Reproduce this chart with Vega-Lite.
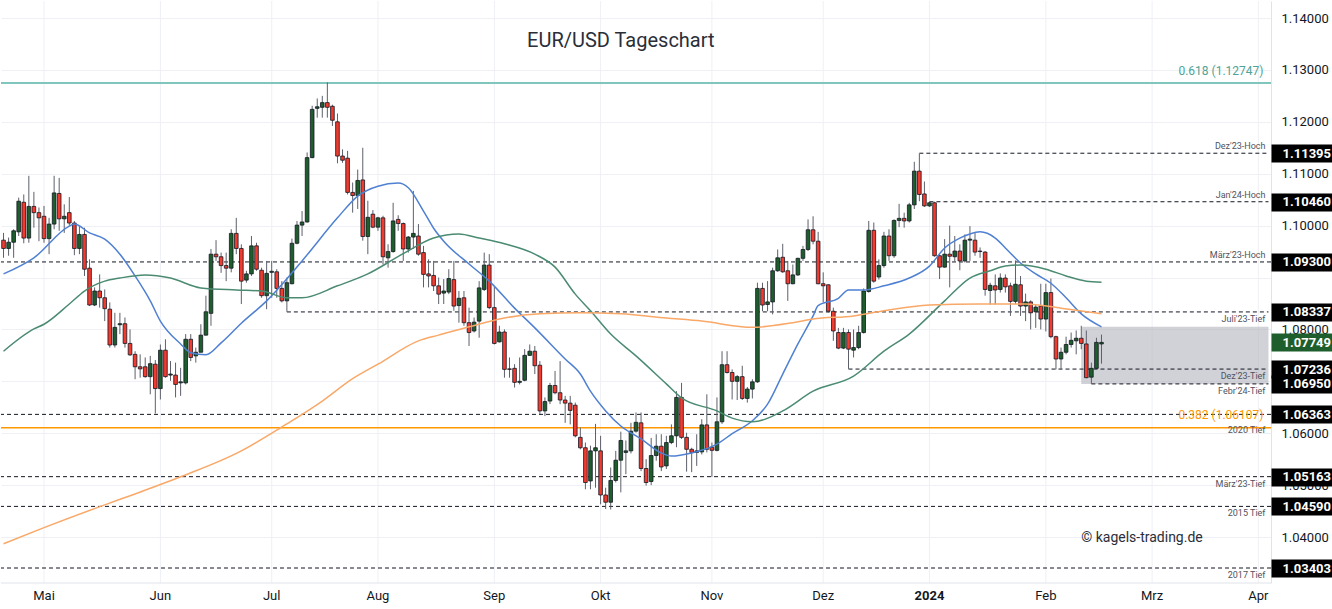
{
"$schema": "https://vega.github.io/schema/vega-lite/v6.json",
"usermeta": {"embedOptions": {"actions": false}},
"width": 1270,
"height": 582,
"autosize": {"type": "pad"},
"padding": 0,
"background": "#ffffff",
"config": {"font": "Roboto", "view": {"stroke": null}},
"datasets": {
"one": [{}],
"months": [
{"date":"2023-05-01","label":"Mai"},
{"date":"2023-06-01","label":"Jun"},
{"date":"2023-07-03","label":"Jul"},
{"date":"2023-08-01","label":"Aug"},
{"date":"2023-09-01","label":"Sep"},
{"date":"2023-10-02","label":"Okt"},
{"date":"2023-11-01","label":"Nov"},
{"date":"2023-12-01","label":"Dez"},
{"date":"2024-01-01","label":"2024"},
{"date":"2024-02-01","label":"Feb"},
{"date":"2024-03-01","label":"Mrz"},
{"date":"2024-04-01","label":"Apr"}
],
"candles": [
{"date":"2023-04-19","open":1.0972,"high":1.0986,"low":1.0938,"close":1.0956},
{"date":"2023-04-20","open":1.0956,"high":1.0977,"low":1.0942,"close":1.0968},
{"date":"2023-04-21","open":1.0968,"high":1.0993,"low":1.0938,"close":1.0990},
{"date":"2023-04-24","open":1.0988,"high":1.1054,"low":1.0980,"close":1.1047},
{"date":"2023-04-25","open":1.1045,"high":1.1060,"low":1.0966,"close":1.0976},
{"date":"2023-04-26","open":1.0976,"high":1.1096,"low":1.0967,"close":1.1037},
{"date":"2023-04-27","open":1.1037,"high":1.1065,"low":1.0996,"close":1.1025},
{"date":"2023-04-28","open":1.1025,"high":1.1035,"low":1.0970,"close":1.1015},
{"date":"2023-05-01","open":1.1018,"high":1.1038,"low":1.0967,"close":1.0975},
{"date":"2023-05-02","open":1.0975,"high":1.1015,"low":1.0945,"close":1.1003},
{"date":"2023-05-03","open":1.1003,"high":1.1096,"low":1.0993,"close":1.1063},
{"date":"2023-05-04","open":1.1062,"high":1.1092,"low":1.0990,"close":1.1013},
{"date":"2023-05-05","open":1.1013,"high":1.1041,"low":1.0986,"close":1.1018},
{"date":"2023-05-08","open":1.1025,"high":1.1055,"low":1.1000,"close":1.1005},
{"date":"2023-05-09","open":1.1005,"high":1.1009,"low":1.0943,"close":1.0956},
{"date":"2023-05-10","open":1.0956,"high":1.0999,"low":1.0945,"close":1.0983},
{"date":"2023-05-11","open":1.0983,"high":1.0996,"low":1.0903,"close":1.0916},
{"date":"2023-05-12","open":1.0918,"high":1.0935,"low":1.0845,"close":1.0847},
{"date":"2023-05-15","open":1.0847,"high":1.0881,"low":1.0845,"close":1.0874},
{"date":"2023-05-16","open":1.0874,"high":1.0906,"low":1.0842,"close":1.0861},
{"date":"2023-05-17","open":1.0861,"high":1.0877,"low":1.0816,"close":1.0840},
{"date":"2023-05-18","open":1.0839,"high":1.0852,"low":1.0765,"close":1.0770},
{"date":"2023-05-19","open":1.0770,"high":1.0832,"low":1.0765,"close":1.0804},
{"date":"2023-05-22","open":1.0809,"high":1.0832,"low":1.0791,"close":1.0811},
{"date":"2023-05-23","open":1.0811,"high":1.0823,"low":1.0765,"close":1.0773},
{"date":"2023-05-24","open":1.0773,"high":1.0800,"low":1.0749,"close":1.0751},
{"date":"2023-05-25","open":1.0752,"high":1.0758,"low":1.0704,"close":1.0728},
{"date":"2023-05-26","open":1.0728,"high":1.0752,"low":1.0707,"close":1.0724},
{"date":"2023-05-29","open":1.0728,"high":1.0746,"low":1.0707,"close":1.0709},
{"date":"2023-05-30","open":1.0709,"high":1.0749,"low":1.0675,"close":1.0734},
{"date":"2023-05-31","open":1.0733,"high":1.0741,"low":1.0638,"close":1.0686},
{"date":"2023-06-01","open":1.0686,"high":1.0771,"low":1.0665,"close":1.0760},
{"date":"2023-06-02","open":1.0760,"high":1.0781,"low":1.0707,"close":1.0709},
{"date":"2023-06-05","open":1.0712,"high":1.0739,"low":1.0701,"close":1.0714},
{"date":"2023-06-06","open":1.0712,"high":1.0736,"low":1.0669,"close":1.0694},
{"date":"2023-06-07","open":1.0697,"high":1.0726,"low":1.0672,"close":1.0699},
{"date":"2023-06-08","open":1.0697,"high":1.0791,"low":1.0694,"close":1.0781},
{"date":"2023-06-09","open":1.0781,"high":1.0791,"low":1.0739,"close":1.0746},
{"date":"2023-06-12","open":1.0749,"high":1.0765,"low":1.0736,"close":1.0756},
{"date":"2023-06-13","open":1.0756,"high":1.0810,"low":1.0756,"close":1.0789},
{"date":"2023-06-14","open":1.0789,"high":1.0865,"low":1.0788,"close":1.0834},
{"date":"2023-06-15","open":1.0831,"high":1.0955,"low":1.0807,"close":1.0945},
{"date":"2023-06-16","open":1.0945,"high":1.0972,"low":1.0932,"close":1.0940},
{"date":"2023-06-19","open":1.0940,"high":1.0948,"low":1.0909,"close":1.0923},
{"date":"2023-06-20","open":1.0923,"high":1.0948,"low":1.0893,"close":1.0918},
{"date":"2023-06-21","open":1.0918,"high":1.0993,"low":1.0910,"close":1.0985},
{"date":"2023-06-22","open":1.0985,"high":1.1015,"low":1.0945,"close":1.0956},
{"date":"2023-06-23","open":1.0956,"high":1.0964,"low":1.0849,"close":1.0893},
{"date":"2023-06-26","open":1.0895,"high":1.0913,"low":1.0890,"close":1.0907},
{"date":"2023-06-27","open":1.0907,"high":1.0980,"low":1.0903,"close":1.0961},
{"date":"2023-06-28","open":1.0961,"high":1.0967,"low":1.0913,"close":1.0916},
{"date":"2023-06-29","open":1.0914,"high":1.0919,"low":1.0861,"close":1.0865},
{"date":"2023-06-30","open":1.0865,"high":1.0932,"low":1.0839,"close":1.0908},
{"date":"2023-07-03","open":1.0910,"high":1.0932,"low":1.0861,"close":1.0912},
{"date":"2023-07-04","open":1.0911,"high":1.0916,"low":1.0861,"close":1.0879},
{"date":"2023-07-05","open":1.0879,"high":1.0893,"low":1.0852,"close":1.0855},
{"date":"2023-07-06","open":1.0855,"high":1.0900,"low":1.0834,"close":1.0890},
{"date":"2023-07-07","open":1.0888,"high":1.0975,"low":1.0887,"close":1.0966},
{"date":"2023-07-10","open":1.0966,"high":1.1009,"low":1.0964,"close":1.1001},
{"date":"2023-07-11","open":1.1001,"high":1.1028,"low":1.0980,"close":1.1007},
{"date":"2023-07-12","open":1.1007,"high":1.1141,"low":1.1006,"close":1.1131},
{"date":"2023-07-13","open":1.1131,"high":1.1231,"low":1.1130,"close":1.1224},
{"date":"2023-07-14","open":1.1226,"high":1.1245,"low":1.1208,"close":1.1229},
{"date":"2023-07-17","open":1.1228,"high":1.1250,"low":1.1208,"close":1.1237},
{"date":"2023-07-18","open":1.1237,"high":1.1276,"low":1.1208,"close":1.1228},
{"date":"2023-07-19","open":1.1230,"high":1.1233,"low":1.1192,"close":1.1203},
{"date":"2023-07-20","open":1.1200,"high":1.1216,"low":1.1120,"close":1.1134},
{"date":"2023-07-21","open":1.1134,"high":1.1147,"low":1.1121,"close":1.1126},
{"date":"2023-07-24","open":1.1130,"high":1.1144,"low":1.1060,"close":1.1064},
{"date":"2023-07-25","open":1.1064,"high":1.1083,"low":1.1025,"close":1.1058},
{"date":"2023-07-26","open":1.1058,"high":1.1108,"low":1.1032,"close":1.1087},
{"date":"2023-07-27","open":1.1088,"high":1.1150,"low":1.0971,"close":1.0979},
{"date":"2023-07-28","open":1.0979,"high":1.1048,"low":1.0945,"close":1.1016},
{"date":"2023-07-31","open":1.1022,"high":1.1030,"low":1.0995,"close":1.0997},
{"date":"2023-08-01","open":1.0997,"high":1.1017,"low":1.0990,"close":1.1015},
{"date":"2023-08-02","open":1.1015,"high":1.1019,"low":1.0925,"close":1.0940},
{"date":"2023-08-03","open":1.0938,"high":1.0964,"low":1.0919,"close":1.0950},
{"date":"2023-08-04","open":1.0950,"high":1.1044,"low":1.0948,"close":1.1009},
{"date":"2023-08-07","open":1.1012,"high":1.1020,"low":1.0990,"close":1.1004},
{"date":"2023-08-08","open":1.1004,"high":1.1006,"low":1.0932,"close":1.0955},
{"date":"2023-08-09","open":1.0955,"high":1.0980,"low":1.0948,"close":1.0978},
{"date":"2023-08-10","open":1.0978,"high":1.1067,"low":1.0955,"close":1.0985},
{"date":"2023-08-11","open":1.0980,"high":1.1003,"low":1.0942,"close":1.0945},
{"date":"2023-08-14","open":1.0948,"high":1.0961,"low":1.0881,"close":1.0906},
{"date":"2023-08-15","open":1.0907,"high":1.0935,"low":1.0881,"close":1.0903},
{"date":"2023-08-16","open":1.0904,"high":1.0932,"low":1.0874,"close":1.0884},
{"date":"2023-08-17","open":1.0884,"high":1.0900,"low":1.0849,"close":1.0868},
{"date":"2023-08-18","open":1.0870,"high":1.0897,"low":1.0849,"close":1.0874},
{"date":"2023-08-21","open":1.0872,"high":1.0916,"low":1.0868,"close":1.0898},
{"date":"2023-08-22","open":1.0896,"high":1.0932,"low":1.0836,"close":1.0845},
{"date":"2023-08-23","open":1.0846,"high":1.0874,"low":1.0813,"close":1.0860},
{"date":"2023-08-24","open":1.0861,"high":1.0874,"low":1.0807,"close":1.0813},
{"date":"2023-08-25","open":1.0813,"high":1.0842,"low":1.0768,"close":1.0794},
{"date":"2023-08-28","open":1.0797,"high":1.0823,"low":1.0794,"close":1.0814},
{"date":"2023-08-29","open":1.0816,"high":1.0893,"low":1.0784,"close":1.0880},
{"date":"2023-08-30","open":1.0877,"high":1.0948,"low":1.0874,"close":1.0924},
{"date":"2023-08-31","open":1.0924,"high":1.0945,"low":1.0839,"close":1.0842},
{"date":"2023-09-01","open":1.0842,"high":1.0882,"low":1.0771,"close":1.0773},
{"date":"2023-09-04","open":1.0776,"high":1.0807,"low":1.0775,"close":1.0795},
{"date":"2023-09-05","open":1.0795,"high":1.0800,"low":1.0707,"close":1.0723},
{"date":"2023-09-06","open":1.0724,"high":1.0746,"low":1.0707,"close":1.0723},
{"date":"2023-09-07","open":1.0725,"high":1.0733,"low":1.0688,"close":1.0698},
{"date":"2023-09-08","open":1.0698,"high":1.0746,"low":1.0694,"close":1.0700},
{"date":"2023-09-11","open":1.0702,"high":1.0762,"low":1.0700,"close":1.0750},
{"date":"2023-09-12","open":1.0750,"high":1.0771,"low":1.0749,"close":1.0758},
{"date":"2023-09-13","open":1.0758,"high":1.0768,"low":1.0714,"close":1.0730},
{"date":"2023-09-14","open":1.0731,"high":1.0739,"low":1.0637,"close":1.0643},
{"date":"2023-09-15","open":1.0643,"high":1.0669,"low":1.0633,"close":1.0661},
{"date":"2023-09-18","open":1.0662,"high":1.0697,"low":1.0656,"close":1.0692},
{"date":"2023-09-19","open":1.0692,"high":1.0720,"low":1.0675,"close":1.0678},
{"date":"2023-09-20","open":1.0678,"high":1.0739,"low":1.0656,"close":1.0664},
{"date":"2023-09-21","open":1.0664,"high":1.0672,"low":1.0620,"close":1.0658},
{"date":"2023-09-22","open":1.0658,"high":1.0672,"low":1.0617,"close":1.0644},
{"date":"2023-09-25","open":1.0654,"high":1.0659,"low":1.0592,"close":1.0595},
{"date":"2023-09-26","open":1.0592,"high":1.0611,"low":1.0569,"close":1.0572},
{"date":"2023-09-27","open":1.0572,"high":1.0582,"low":1.0492,"close":1.0505},
{"date":"2023-09-28","open":1.0508,"high":1.0576,"low":1.0492,"close":1.0566},
{"date":"2023-09-29","open":1.0566,"high":1.0618,"low":1.0495,"close":1.0572},
{"date":"2023-10-02","open":1.0566,"high":1.0595,"low":1.0463,"close":1.0481},
{"date":"2023-10-03","open":1.0481,"high":1.0495,"low":1.0454,"close":1.0467},
{"date":"2023-10-04","open":1.0467,"high":1.0534,"low":1.0453,"close":1.0509},
{"date":"2023-10-05","open":1.0509,"high":1.0566,"low":1.0505,"close":1.0548},
{"date":"2023-10-06","open":1.0548,"high":1.0603,"low":1.0486,"close":1.0586},
{"date":"2023-10-09","open":1.0563,"high":1.0586,"low":1.0521,"close":1.0566},
{"date":"2023-10-10","open":1.0566,"high":1.0620,"low":1.0561,"close":1.0604},
{"date":"2023-10-11","open":1.0604,"high":1.0640,"low":1.0601,"close":1.0621},
{"date":"2023-10-12","open":1.0620,"high":1.0640,"low":1.0527,"close":1.0532},
{"date":"2023-10-13","open":1.0532,"high":1.0550,"low":1.0499,"close":1.0505},
{"date":"2023-10-16","open":1.0507,"high":1.0591,"low":1.0500,"close":1.0557},
{"date":"2023-10-17","open":1.0557,"high":1.0598,"low":1.0547,"close":1.0575},
{"date":"2023-10-18","open":1.0575,"high":1.0598,"low":1.0527,"close":1.0535},
{"date":"2023-10-19","open":1.0537,"high":1.0595,"low":1.0531,"close":1.0582},
{"date":"2023-10-20","open":1.0582,"high":1.0617,"low":1.0579,"close":1.0595},
{"date":"2023-10-23","open":1.0595,"high":1.0681,"low":1.0573,"close":1.0669},
{"date":"2023-10-24","open":1.0669,"high":1.0697,"low":1.0589,"close":1.0592},
{"date":"2023-10-25","open":1.0592,"high":1.0601,"low":1.0526,"close":1.0569},
{"date":"2023-10-26","open":1.0569,"high":1.0572,"low":1.0525,"close":1.0563},
{"date":"2023-10-27","open":1.0563,"high":1.0598,"low":1.0537,"close":1.0566},
{"date":"2023-10-30","open":1.0564,"high":1.0627,"low":1.0559,"close":1.0616},
{"date":"2023-10-31","open":1.0616,"high":1.0675,"low":1.0563,"close":1.0569},
{"date":"2023-11-01","open":1.0573,"high":1.0582,"low":1.0516,"close":1.0567},
{"date":"2023-11-02","open":1.0567,"high":1.0669,"low":1.0565,"close":1.0622},
{"date":"2023-11-03","open":1.0622,"high":1.0758,"low":1.0618,"close":1.0732},
{"date":"2023-11-06","open":1.0732,"high":1.0758,"low":1.0715,"close":1.0717},
{"date":"2023-11-07","open":1.0717,"high":1.0723,"low":1.0665,"close":1.0700},
{"date":"2023-11-08","open":1.0700,"high":1.0712,"low":1.0664,"close":1.0709},
{"date":"2023-11-09","open":1.0709,"high":1.0730,"low":1.0664,"close":1.0667},
{"date":"2023-11-10","open":1.0667,"high":1.0689,"low":1.0659,"close":1.0685},
{"date":"2023-11-13","open":1.0685,"high":1.0704,"low":1.0667,"close":1.0699},
{"date":"2023-11-14","open":1.0699,"high":1.0890,"low":1.0697,"close":1.0879},
{"date":"2023-11-15","open":1.0879,"high":1.0890,"low":1.0835,"close":1.0847},
{"date":"2023-11-16","open":1.0848,"high":1.0893,"low":1.0835,"close":1.0853},
{"date":"2023-11-17","open":1.0853,"high":1.0919,"low":1.0829,"close":1.0913},
{"date":"2023-11-20","open":1.0913,"high":1.0954,"low":1.0911,"close":1.0938},
{"date":"2023-11-21","open":1.0939,"high":1.0965,"low":1.0909,"close":1.0911},
{"date":"2023-11-22","open":1.0913,"high":1.0932,"low":1.0855,"close":1.0888},
{"date":"2023-11-23","open":1.0888,"high":1.0925,"low":1.0887,"close":1.0905},
{"date":"2023-11-24","open":1.0905,"high":1.0938,"low":1.0903,"close":1.0937},
{"date":"2023-11-27","open":1.0937,"high":1.0961,"low":1.0932,"close":1.0954},
{"date":"2023-11-28","open":1.0954,"high":1.1012,"low":1.0951,"close":1.0992},
{"date":"2023-11-29","open":1.0992,"high":1.1018,"low":1.0964,"close":1.0970},
{"date":"2023-11-30","open":1.0970,"high":1.0988,"low":1.0887,"close":1.0888},
{"date":"2023-12-01","open":1.0888,"high":1.0910,"low":1.0852,"close":1.0884},
{"date":"2023-12-04","open":1.0886,"high":1.0887,"low":1.0832,"close":1.0835},
{"date":"2023-12-05","open":1.0835,"high":1.0842,"low":1.0778,"close":1.0797},
{"date":"2023-12-06","open":1.0794,"high":1.0803,"low":1.0762,"close":1.0764},
{"date":"2023-12-07","open":1.0764,"high":1.0803,"low":1.0762,"close":1.0794},
{"date":"2023-12-08","open":1.0794,"high":1.0800,"low":1.0724,"close":1.0762},
{"date":"2023-12-11","open":1.0760,"high":1.0800,"low":1.0746,"close":1.0765},
{"date":"2023-12-12","open":1.0765,"high":1.0807,"low":1.0762,"close":1.0794},
{"date":"2023-12-13","open":1.0794,"high":1.0879,"low":1.0792,"close":1.0874},
{"date":"2023-12-14","open":1.0873,"high":1.1009,"low":1.0871,"close":1.0991},
{"date":"2023-12-15","open":1.0991,"high":1.1006,"low":1.0890,"close":1.0893},
{"date":"2023-12-18","open":1.0901,"high":1.0935,"low":1.0896,"close":1.0923},
{"date":"2023-12-19","open":1.0923,"high":1.0988,"low":1.0919,"close":1.0980},
{"date":"2023-12-20","open":1.0980,"high":1.0993,"low":1.0932,"close":1.0942},
{"date":"2023-12-21","open":1.0942,"high":1.1012,"low":1.0938,"close":1.1010},
{"date":"2023-12-22","open":1.1010,"high":1.1042,"low":1.0997,"close":1.1014},
{"date":"2023-12-25","open":1.1014,"high":1.1025,"low":1.0996,"close":1.1009},
{"date":"2023-12-26","open":1.1009,"high":1.1044,"low":1.1006,"close":1.1040},
{"date":"2023-12-27","open":1.1040,"high":1.1123,"low":1.1032,"close":1.1105},
{"date":"2023-12-28","open":1.1105,"high":1.1139,"low":1.1047,"close":1.1060},
{"date":"2023-12-29","open":1.1061,"high":1.1085,"low":1.1036,"close":1.1038},
{"date":"2024-01-01","open":1.1038,"high":1.1046,"low":1.1036,"close":1.1044},
{"date":"2024-01-02","open":1.1044,"high":1.1046,"low":1.0940,"close":1.0942},
{"date":"2024-01-03","open":1.0942,"high":1.0944,"low":1.0897,"close":1.0920},
{"date":"2024-01-04","open":1.0920,"high":1.0974,"low":1.0919,"close":1.0945},
{"date":"2024-01-05","open":1.0945,"high":1.1000,"low":1.0881,"close":1.0941},
{"date":"2024-01-08","open":1.0940,"high":1.0980,"low":1.0931,"close":1.0951},
{"date":"2024-01-09","open":1.0951,"high":1.0964,"low":1.0914,"close":1.0932},
{"date":"2024-01-10","open":1.0932,"high":1.0983,"low":1.0929,"close":1.0972},
{"date":"2024-01-11","open":1.0972,"high":1.0999,"low":1.0932,"close":1.0974},
{"date":"2024-01-12","open":1.0972,"high":1.0987,"low":1.0942,"close":1.0949},
{"date":"2024-01-15","open":1.0951,"high":1.0958,"low":1.0938,"close":1.0950},
{"date":"2024-01-16","open":1.0949,"high":1.0951,"low":1.0865,"close":1.0877},
{"date":"2024-01-17","open":1.0875,"high":1.0890,"low":1.0848,"close":1.0885},
{"date":"2024-01-18","open":1.0884,"high":1.0906,"low":1.0848,"close":1.0876},
{"date":"2024-01-19","open":1.0877,"high":1.0908,"low":1.0871,"close":1.0899},
{"date":"2024-01-22","open":1.0899,"high":1.0906,"low":1.0871,"close":1.0882},
{"date":"2024-01-23","open":1.0884,"high":1.0890,"low":1.0826,"close":1.0854},
{"date":"2024-01-24","open":1.0854,"high":1.0933,"low":1.0849,"close":1.0887},
{"date":"2024-01-25","open":1.0886,"high":1.0903,"low":1.0826,"close":1.0845},
{"date":"2024-01-26","open":1.0845,"high":1.0869,"low":1.0816,"close":1.0853},
{"date":"2024-01-29","open":1.0853,"high":1.0856,"low":1.0800,"close":1.0832},
{"date":"2024-01-30","open":1.0834,"high":1.0847,"low":1.0803,"close":1.0843},
{"date":"2024-01-31","open":1.0845,"high":1.0888,"low":1.0800,"close":1.0820},
{"date":"2024-02-01","open":1.0820,"high":1.0888,"low":1.0796,"close":1.0871},
{"date":"2024-02-02","open":1.0871,"high":1.0898,"low":1.0783,"close":1.0786},
{"date":"2024-02-05","open":1.0786,"high":1.0788,"low":1.0723,"close":1.0743},
{"date":"2024-02-06","open":1.0743,"high":1.0765,"low":1.0723,"close":1.0756},
{"date":"2024-02-07","open":1.0756,"high":1.0786,"low":1.0752,"close":1.0771},
{"date":"2024-02-08","open":1.0771,"high":1.0794,"low":1.0765,"close":1.0779},
{"date":"2024-02-09","open":1.0778,"high":1.0798,"low":1.0752,"close":1.0783},
{"date":"2024-02-12","open":1.0783,"high":1.0807,"low":1.0762,"close":1.0773},
{"date":"2024-02-13","open":1.0772,"high":1.0798,"low":1.0706,"close":1.0707},
{"date":"2024-02-14","open":1.0708,"high":1.0736,"low":1.0695,"close":1.0725},
{"date":"2024-02-15","open":1.0725,"high":1.0784,"low":1.0723,"close":1.0775},
{"date":"2024-02-16","open":1.0772,"high":1.0790,"low":1.0734,"close":1.0775}
],
"ma": [
{"date":"2023-04-19","series":"SMA20","value":1.0907},
{"date":"2023-04-27","series":"SMA20","value":1.0938},
{"date":"2023-05-08","series":"SMA20","value":1.0999},
{"date":"2023-05-09","series":"SMA20","value":1.1003},
{"date":"2023-05-12","series":"SMA20","value":1.0986},
{"date":"2023-05-17","series":"SMA20","value":1.0974},
{"date":"2023-05-22","series":"SMA20","value":1.0945},
{"date":"2023-05-25","series":"SMA20","value":1.0903},
{"date":"2023-05-30","series":"SMA20","value":1.0855},
{"date":"2023-06-01","series":"SMA20","value":1.0816},
{"date":"2023-06-07","series":"SMA20","value":1.0772},
{"date":"2023-06-09","series":"SMA20","value":1.0755},
{"date":"2023-06-14","series":"SMA20","value":1.0751},
{"date":"2023-06-19","series":"SMA20","value":1.0774},
{"date":"2023-06-23","series":"SMA20","value":1.0812},
{"date":"2023-06-30","series":"SMA20","value":1.0855},
{"date":"2023-07-11","series":"SMA20","value":1.0932},
{"date":"2023-07-20","series":"SMA20","value":1.1015},
{"date":"2023-07-26","series":"SMA20","value":1.1057},
{"date":"2023-08-01","series":"SMA20","value":1.1076},
{"date":"2023-08-07","series":"SMA20","value":1.1082},
{"date":"2023-08-09","series":"SMA20","value":1.1073},
{"date":"2023-08-14","series":"SMA20","value":1.1028},
{"date":"2023-08-16","series":"SMA20","value":1.0995},
{"date":"2023-08-18","series":"SMA20","value":1.0970},
{"date":"2023-08-25","series":"SMA20","value":1.0926},
{"date":"2023-08-31","series":"SMA20","value":1.0893},
{"date":"2023-09-07","series":"SMA20","value":1.0841},
{"date":"2023-09-13","series":"SMA20","value":1.0803},
{"date":"2023-09-21","series":"SMA20","value":1.0743},
{"date":"2023-09-26","series":"SMA20","value":1.0714},
{"date":"2023-09-28","series":"SMA20","value":1.0681},
{"date":"2023-10-03","series":"SMA20","value":1.0643},
{"date":"2023-10-06","series":"SMA20","value":1.0614},
{"date":"2023-10-12","series":"SMA20","value":1.0589},
{"date":"2023-10-18","series":"SMA20","value":1.0562},
{"date":"2023-10-20","series":"SMA20","value":1.0556},
{"date":"2023-10-26","series":"SMA20","value":1.0562},
{"date":"2023-11-02","series":"SMA20","value":1.0579},
{"date":"2023-11-07","series":"SMA20","value":1.0599},
{"date":"2023-11-13","series":"SMA20","value":1.0624},
{"date":"2023-11-16","series":"SMA20","value":1.0656},
{"date":"2023-11-21","series":"SMA20","value":1.0714},
{"date":"2023-11-24","series":"SMA20","value":1.0772},
{"date":"2023-11-29","series":"SMA20","value":1.0826},
{"date":"2023-11-30","series":"SMA20","value":1.0846},
{"date":"2023-12-06","series":"SMA20","value":1.0860},
{"date":"2023-12-08","series":"SMA20","value":1.0876},
{"date":"2023-12-13","series":"SMA20","value":1.0876},
{"date":"2023-12-19","series":"SMA20","value":1.0884},
{"date":"2023-12-26","series":"SMA20","value":1.0899},
{"date":"2024-01-01","series":"SMA20","value":1.0922},
{"date":"2024-01-04","series":"SMA20","value":1.0957},
{"date":"2024-01-09","series":"SMA20","value":1.0976},
{"date":"2024-01-11","series":"SMA20","value":1.0984},
{"date":"2024-01-15","series":"SMA20","value":1.0988},
{"date":"2024-01-18","series":"SMA20","value":1.0976},
{"date":"2024-01-22","series":"SMA20","value":1.0957},
{"date":"2024-01-25","series":"SMA20","value":1.0928},
{"date":"2024-01-30","series":"SMA20","value":1.0907},
{"date":"2024-02-02","series":"SMA20","value":1.0889},
{"date":"2024-02-07","series":"SMA20","value":1.0861},
{"date":"2024-02-12","series":"SMA20","value":1.0830},
{"date":"2024-02-16","series":"SMA20","value":1.0805},
{"date":"2023-04-19","series":"SMA50","value":1.0758},
{"date":"2023-04-27","series":"SMA50","value":1.0801},
{"date":"2023-05-01","series":"SMA50","value":1.0810},
{"date":"2023-05-08","series":"SMA50","value":1.0849},
{"date":"2023-05-11","series":"SMA50","value":1.0874},
{"date":"2023-05-17","series":"SMA50","value":1.0893},
{"date":"2023-05-22","series":"SMA50","value":1.0899},
{"date":"2023-05-29","series":"SMA50","value":1.0905},
{"date":"2023-06-05","series":"SMA50","value":1.0899},
{"date":"2023-06-13","series":"SMA50","value":1.0880},
{"date":"2023-06-22","series":"SMA50","value":1.0876},
{"date":"2023-06-29","series":"SMA50","value":1.0874},
{"date":"2023-07-06","series":"SMA50","value":1.0861},
{"date":"2023-07-11","series":"SMA50","value":1.0861},
{"date":"2023-07-20","series":"SMA50","value":1.0884},
{"date":"2023-07-28","series":"SMA50","value":1.0907},
{"date":"2023-08-08","series":"SMA50","value":1.0946},
{"date":"2023-08-16","series":"SMA50","value":1.0976},
{"date":"2023-08-23","series":"SMA50","value":1.0984},
{"date":"2023-08-29","series":"SMA50","value":1.0976},
{"date":"2023-09-05","series":"SMA50","value":1.0965},
{"date":"2023-09-13","series":"SMA50","value":1.0945},
{"date":"2023-09-19","series":"SMA50","value":1.0920},
{"date":"2023-09-25","series":"SMA50","value":1.0868},
{"date":"2023-09-28","series":"SMA50","value":1.0836},
{"date":"2023-10-04","series":"SMA50","value":1.0791},
{"date":"2023-10-11","series":"SMA50","value":1.0749},
{"date":"2023-10-19","series":"SMA50","value":1.0695},
{"date":"2023-10-24","series":"SMA50","value":1.0668},
{"date":"2023-11-02","series":"SMA50","value":1.0643},
{"date":"2023-11-07","series":"SMA50","value":1.0629},
{"date":"2023-11-13","series":"SMA50","value":1.0622},
{"date":"2023-11-21","series":"SMA50","value":1.0643},
{"date":"2023-11-29","series":"SMA50","value":1.0681},
{"date":"2023-12-11","series":"SMA50","value":1.0710},
{"date":"2023-12-19","series":"SMA50","value":1.0758},
{"date":"2023-12-26","series":"SMA50","value":1.0791},
{"date":"2024-01-04","series":"SMA50","value":1.0855},
{"date":"2024-01-11","series":"SMA50","value":1.0899},
{"date":"2024-01-17","series":"SMA50","value":1.0913},
{"date":"2024-01-22","series":"SMA50","value":1.0922},
{"date":"2024-01-25","series":"SMA50","value":1.0924},
{"date":"2024-02-01","series":"SMA50","value":1.0916},
{"date":"2024-02-07","series":"SMA50","value":1.0903},
{"date":"2024-02-13","series":"SMA50","value":1.0893},
{"date":"2024-02-16","series":"SMA50","value":1.0891},
{"date":"2023-04-19","series":"SMA200","value":1.0387},
{"date":"2023-05-01","series":"SMA200","value":1.0418},
{"date":"2023-05-17","series":"SMA200","value":1.0462},
{"date":"2023-05-25","series":"SMA200","value":1.0483},
{"date":"2023-06-07","series":"SMA200","value":1.0516},
{"date":"2023-06-23","series":"SMA200","value":1.0566},
{"date":"2023-07-05","series":"SMA200","value":1.0612},
{"date":"2023-07-17","series":"SMA200","value":1.0662},
{"date":"2023-07-25","series":"SMA200","value":1.0705},
{"date":"2023-08-01","series":"SMA200","value":1.0733},
{"date":"2023-08-11","series":"SMA200","value":1.0778},
{"date":"2023-08-17","series":"SMA200","value":1.0789},
{"date":"2023-08-25","series":"SMA200","value":1.0805},
{"date":"2023-09-05","series":"SMA200","value":1.0822},
{"date":"2023-09-14","series":"SMA200","value":1.0830},
{"date":"2023-09-26","series":"SMA200","value":1.0832},
{"date":"2023-10-06","series":"SMA200","value":1.0830},
{"date":"2023-10-19","series":"SMA200","value":1.0822},
{"date":"2023-10-30","series":"SMA200","value":1.0816},
{"date":"2023-11-13","series":"SMA200","value":1.0804},
{"date":"2023-11-23","series":"SMA200","value":1.0813},
{"date":"2023-11-29","series":"SMA200","value":1.0820},
{"date":"2023-12-11","series":"SMA200","value":1.0826},
{"date":"2023-12-19","series":"SMA200","value":1.0836},
{"date":"2024-01-01","series":"SMA200","value":1.0847},
{"date":"2024-01-15","series":"SMA200","value":1.0849},
{"date":"2024-01-26","series":"SMA200","value":1.0849},
{"date":"2024-02-06","series":"SMA200","value":1.0841},
{"date":"2024-02-16","series":"SMA200","value":1.0830}
],
"levels": [
{"price":1.11395,"start":"2023-12-28","label":"Dez'23-Hoch","kind":"Hoch"},
{"price":1.1046,"start":"2024-01-01","label":"Jan'24-Hoch","kind":"Hoch"},
{"price":1.093,"start":null,"label":"März'23-Hoch","kind":"Hoch"},
{"price":1.08337,"start":"2023-07-06","label":"Juli'23-Tief","kind":"Tief"},
{"price":1.07236,"start":"2023-12-08","label":"Dez'23-Tief","kind":"Tief"},
{"price":1.0695,"start":"2024-02-14","label":"Febr'24-Tief","kind":"Tief"},
{"price":1.06363,"start":null,"label":"2020 Tief","kind":"Tief"},
{"price":1.05163,"start":null,"label":"März'23-Tief","kind":"Tief"},
{"price":1.0459,"start":null,"label":"2015 Tief","kind":"Tief"},
{"price":1.03403,"start":null,"label":"2017 Tief","kind":"Tief"}
]
},
"resolve": {"axis": {"y": "independent"}},
"layer": [
{
"data": {"name": "candles"},
"mark": {"type": "rule", "stroke": "#5d606b", "strokeWidth": 1, "opacity": 0},
"encoding": {
"x": {"field": "date", "type": "ordinal", "axis": null,
"scale": {"type": "band", "paddingInner": 0, "paddingOuter": 0, "domain": [
"2023-04-19","2023-04-20","2023-04-21","2023-04-24","2023-04-25","2023-04-26","2023-04-27","2023-04-28",
"2023-05-01","2023-05-02","2023-05-03","2023-05-04","2023-05-05","2023-05-08","2023-05-09","2023-05-10","2023-05-11","2023-05-12","2023-05-15","2023-05-16","2023-05-17","2023-05-18","2023-05-19","2023-05-22","2023-05-23","2023-05-24","2023-05-25","2023-05-26","2023-05-29","2023-05-30","2023-05-31",
"2023-06-01","2023-06-02","2023-06-05","2023-06-06","2023-06-07","2023-06-08","2023-06-09","2023-06-12","2023-06-13","2023-06-14","2023-06-15","2023-06-16","2023-06-19","2023-06-20","2023-06-21","2023-06-22","2023-06-23","2023-06-26","2023-06-27","2023-06-28","2023-06-29","2023-06-30",
"2023-07-03","2023-07-04","2023-07-05","2023-07-06","2023-07-07","2023-07-10","2023-07-11","2023-07-12","2023-07-13","2023-07-14","2023-07-17","2023-07-18","2023-07-19","2023-07-20","2023-07-21","2023-07-24","2023-07-25","2023-07-26","2023-07-27","2023-07-28","2023-07-31",
"2023-08-01","2023-08-02","2023-08-03","2023-08-04","2023-08-07","2023-08-08","2023-08-09","2023-08-10","2023-08-11","2023-08-14","2023-08-15","2023-08-16","2023-08-17","2023-08-18","2023-08-21","2023-08-22","2023-08-23","2023-08-24","2023-08-25","2023-08-28","2023-08-29","2023-08-30","2023-08-31",
"2023-09-01","2023-09-04","2023-09-05","2023-09-06","2023-09-07","2023-09-08","2023-09-11","2023-09-12","2023-09-13","2023-09-14","2023-09-15","2023-09-18","2023-09-19","2023-09-20","2023-09-21","2023-09-22","2023-09-25","2023-09-26","2023-09-27","2023-09-28","2023-09-29",
"2023-10-02","2023-10-03","2023-10-04","2023-10-05","2023-10-06","2023-10-09","2023-10-10","2023-10-11","2023-10-12","2023-10-13","2023-10-16","2023-10-17","2023-10-18","2023-10-19","2023-10-20","2023-10-23","2023-10-24","2023-10-25","2023-10-26","2023-10-27","2023-10-30","2023-10-31",
"2023-11-01","2023-11-02","2023-11-03","2023-11-06","2023-11-07","2023-11-08","2023-11-09","2023-11-10","2023-11-13","2023-11-14","2023-11-15","2023-11-16","2023-11-17","2023-11-20","2023-11-21","2023-11-22","2023-11-23","2023-11-24","2023-11-27","2023-11-28","2023-11-29","2023-11-30",
"2023-12-01","2023-12-04","2023-12-05","2023-12-06","2023-12-07","2023-12-08","2023-12-11","2023-12-12","2023-12-13","2023-12-14","2023-12-15","2023-12-18","2023-12-19","2023-12-20","2023-12-21","2023-12-22","2023-12-25","2023-12-26","2023-12-27","2023-12-28","2023-12-29",
"2024-01-01","2024-01-02","2024-01-03","2024-01-04","2024-01-05","2024-01-08","2024-01-09","2024-01-10","2024-01-11","2024-01-12","2024-01-15","2024-01-16","2024-01-17","2024-01-18","2024-01-19","2024-01-22","2024-01-23","2024-01-24","2024-01-25","2024-01-26","2024-01-29","2024-01-30","2024-01-31",
"2024-02-01","2024-02-02","2024-02-05","2024-02-06","2024-02-07","2024-02-08","2024-02-09","2024-02-12","2024-02-13","2024-02-14","2024-02-15","2024-02-16","2024-02-19","2024-02-20","2024-02-21","2024-02-22","2024-02-23","2024-02-26","2024-02-27","2024-02-28","2024-02-29",
"2024-03-01","2024-03-04","2024-03-05","2024-03-06","2024-03-07","2024-03-08","2024-03-11","2024-03-12","2024-03-13","2024-03-14","2024-03-15","2024-03-18","2024-03-19","2024-03-20","2024-03-21","2024-03-22","2024-03-25","2024-03-26","2024-03-27","2024-03-28","2024-03-29",
"2024-04-01","2024-04-02","2024-04-03"]}},
"y": {"field": "low", "type": "quantitative",
"scale": {"domain": [1.03114, 1.14328], "zero": false, "nice": false},
"axis": {
"orient": "right",
"values": [1.04, 1.05, 1.06, 1.07, 1.08, 1.09, 1.1, 1.11, 1.12, 1.13, 1.14],
"labelExpr": "(abs(datum.value - 1.07) < 0.000001 || abs(datum.value - 1.09) < 0.000001) ? '' : format(datum.value, '.5f')",
"grid": true, "gridColor": "#eef0f5", "ticks": false, "domain": true, "domainColor": "#e0e3eb",
"labelPadding": 10, "labelFontSize": 13, "labelColor": "#131722", "labelFont": "Roboto", "labelAlign": "left", "labelBaseline": "middle",
"labelOverlap": false, "labelBound": false, "labelFlush": false, "title": null, "zindex": 0
}},
"y2": {"field": "high"}
}
},
{
"data": {"name": "months"},
"mark": {"type": "rule", "stroke": "#eef0f5", "strokeWidth": 1},
"encoding": {
"x": {"field": "date", "type": "ordinal", "axis": null}
}
},
{
"data": {"name": "one"},
"mark": {"type": "rule", "stroke": "#e0e3eb", "strokeWidth": 1},
"encoding": {"y": {"datum": 1.03114, "type": "quantitative", "axis": null}}
},
{
"data": {"name": "months"},
"transform": [{"filter": "datum.label != '2024'"}],
"mark": {"type": "text", "align": "center", "baseline": "middle", "fontSize": 13, "fill": "#131722", "font": "Roboto"},
"encoding": {
"x": {"field": "date", "type": "ordinal", "axis": null},
"y": {"datum": 1.0287, "type": "quantitative", "axis": null},
"text": {"field": "label"}
}
},
{
"data": {"name": "months"},
"transform": [{"filter": "datum.label == '2024'"}],
"mark": {"type": "text", "align": "center", "baseline": "middle", "fontSize": 13, "fontWeight": "bold", "fill": "#131722", "font": "Roboto"},
"encoding": {
"x": {"field": "date", "type": "ordinal", "axis": null},
"y": {"datum": 1.0287, "type": "quantitative", "axis": null},
"text": {"field": "label"}
}
},
{
"data": {"name": "one"},
"mark": {"type": "rect", "fill": "#b4b6bf", "opacity": 0.62},
"encoding": {
"x": {"datum": "2024-02-12", "type": "ordinal", "axis": null},
"x2": {"datum": "2024-04-03"},
"y": {"datum": 1.0805, "type": "quantitative", "axis": null},
"y2": {"datum": 1.0695}
}
},
{
"data": {"name": "one"},
"mark": {"type": "rule", "stroke": "#80c6bc", "strokeWidth": 2},
"encoding": {"y": {"datum": 1.12747, "type": "quantitative", "axis": null}}
},
{
"data": {"name": "one"},
"mark": {"type": "rule", "stroke": "#ff9800", "strokeWidth": 1.5},
"encoding": {"y": {"datum": 1.06107, "type": "quantitative", "axis": null}}
},
{
"data": {"name": "levels"},
"transform": [{"filter": "datum.start == null"}],
"mark": {"type": "rule", "stroke": "#131722", "strokeWidth": 1, "strokeDash": [4, 3]},
"encoding": {
"y": {"field": "price", "type": "quantitative", "axis": {
"orient": "right",
"values": [1.11395, 1.1046, 1.093, 1.08337, 1.07749, 1.07236, 1.0695, 1.06363, 1.05163, 1.0459, 1.03403],
"format": ".5f",
"grid": false, "domain": false, "ticks": true, "tickSize": 62, "tickWidth": 18,
"tickColor": {"condition": {"test": "abs(datum.value - 1.07749) < 0.000001", "value": "#1e5e2c"}, "value": "#000000"},
"labelPadding": -51, "labelColor": "#ffffff", "labelFontWeight": "bold", "labelFontSize": 13, "labelFont": "Roboto",
"labelAlign": "left", "labelBaseline": "middle", "labelOverlap": false, "labelBound": false, "labelFlush": false,
"title": null, "zindex": 2
}}
}
},
{
"data": {"name": "levels"},
"transform": [{"filter": "datum.start != null"}],
"mark": {"type": "rule", "stroke": "#131722", "strokeWidth": 1, "strokeDash": [4, 3]},
"encoding": {
"x": {"field": "start", "type": "ordinal", "axis": null},
"x2": {"datum": "2024-04-03"},
"y": {"field": "price", "type": "quantitative", "axis": null}
}
},
{
"data": {"name": "candles"},
"mark": {"type": "rule", "stroke": "#5d606b", "strokeWidth": 1},
"encoding": {
"x": {"field": "date", "type": "ordinal", "axis": null},
"y": {"field": "low", "type": "quantitative", "axis": null},
"y2": {"field": "high"}
}
},
{
"data": {"name": "candles"},
"mark": {"type": "bar", "width": {"band": 0.72}, "stroke": "#131722", "strokeWidth": 0.8},
"encoding": {
"x": {"field": "date", "type": "ordinal", "axis": null},
"y": {"field": "open", "type": "quantitative", "axis": null},
"y2": {"field": "close"},
"fill": {"condition": {"test": "datum.close >= datum.open", "value": "#1e5e2c"}, "value": "#f23a2e"}
}
},
{
"data": {"name": "ma"},
"mark": {"type": "line", "strokeWidth": 1.5, "interpolate": "monotone"},
"encoding": {
"x": {"field": "date", "type": "ordinal", "axis": null},
"y": {"field": "value", "type": "quantitative", "axis": null},
"color": {"field": "series", "type": "nominal", "scale": {"domain": ["SMA20", "SMA50", "SMA200"], "range": ["#4f80d2", "#4b8b72", "#f9a868"]}, "legend": null}
}
},
{
"data": {"name": "levels"},
"transform": [{"filter": "datum.kind == 'Hoch'"}],
"mark": {"type": "text", "align": "right", "baseline": "middle", "dx": -3, "dy": -7, "fontSize": 9, "fill": "#50535e", "font": "Roboto"},
"encoding": {
"x": {"datum": "2024-04-03", "type": "ordinal", "axis": null},
"y": {"field": "price", "type": "quantitative", "axis": null},
"text": {"field": "label"}
}
},
{
"data": {"name": "levels"},
"transform": [{"filter": "datum.kind == 'Tief' && datum.label != '2020 Tief'"}],
"mark": {"type": "text", "align": "right", "baseline": "middle", "dx": -3, "dy": 7, "fontSize": 9, "fill": "#50535e", "font": "Roboto"},
"encoding": {
"x": {"datum": "2024-04-03", "type": "ordinal", "axis": null},
"y": {"field": "price", "type": "quantitative", "axis": null},
"text": {"field": "label"}
}
},
{
"data": {"name": "levels"},
"transform": [{"filter": "datum.label == '2020 Tief'"}],
"mark": {"type": "text", "align": "right", "baseline": "middle", "dx": -3, "dy": 16, "fontSize": 9, "fill": "#50535e", "font": "Roboto"},
"encoding": {
"x": {"datum": "2024-04-03", "type": "ordinal", "axis": null},
"y": {"field": "price", "type": "quantitative", "axis": null},
"text": {"field": "label"}
}
},
{
"data": {"name": "one"},
"mark": {"type": "text", "align": "right", "baseline": "middle", "dx": -5, "dy": -12, "fontSize": 12, "fill": "#4fa397", "font": "Roboto", "text": "0.618 (1.12747)"},
"encoding": {
"x": {"datum": "2024-04-03", "type": "ordinal", "axis": null},
"y": {"datum": 1.12747, "type": "quantitative", "axis": null}
}
},
{
"data": {"name": "one"},
"mark": {"type": "text", "align": "right", "baseline": "middle", "dx": -5, "dy": -13, "fontSize": 12, "fill": "#ff9800", "font": "Roboto", "text": "0.382 (1.06107)"},
"encoding": {
"x": {"datum": "2024-04-03", "type": "ordinal", "axis": null},
"y": {"datum": 1.06107, "type": "quantitative", "axis": null}
}
},
{
"data": {"name": "one"},
"mark": {"type": "text", "align": "center", "baseline": "middle", "fontSize": 20, "fill": "#2a2e39", "font": "Roboto", "text": "EUR/USD Tageschart"},
"encoding": {
"x": {"datum": "2023-10-06", "type": "ordinal", "axis": null},
"y": {"datum": 1.1355, "type": "quantitative", "axis": null}
}
},
{
"data": {"name": "one"},
"mark": {"type": "text", "align": "center", "baseline": "middle", "fontSize": 14, "fill": "#2a2e39", "font": "Roboto", "text": "© kagels-trading.de"},
"encoding": {
"x": {"datum": "2024-02-28", "type": "ordinal", "axis": null},
"y": {"datum": 1.0398, "type": "quantitative", "axis": null}
}
}
]
}
